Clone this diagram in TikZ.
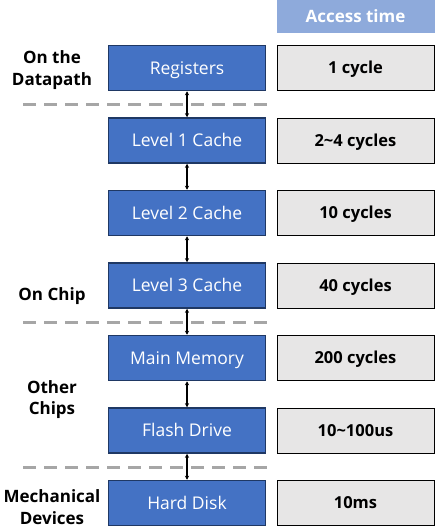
\documentclass[tikz,border=0pt]{standalone}
\usepackage{fontspec}
\setmainfont{Open Sans}
\usetikzlibrary{arrows.meta}
\definecolor{memblue}{HTML}{4472C4}
\definecolor{memedge}{HTML}{1F3864}
\definecolor{timefill}{HTML}{E7E6E6}
\definecolor{headfill}{HTML}{8EAADB}
\definecolor{sepgray}{HTML}{A6A6A6}
\tikzset{
  membox/.style={draw=memedge, line width=1.5pt, fill=memblue, text=white,
    minimum width=157pt, minimum height=45pt, inner sep=0pt, text height=12.4pt, text depth=0pt,
    font=\fontsize{17.5}{20}\selectfont},
  timebox/.style={draw=black, line width=1pt, fill=timefill, text=black,
    minimum width=157pt, minimum height=45pt, inner sep=0pt, text height=11.8pt, text depth=0pt,
    font=\fontsize{16.5}{20}\selectfont\bfseries},
  headbox/.style={fill=headfill, text=white, minimum width=158pt, minimum height=33pt,
    inner sep=0pt, text height=12pt, text depth=0pt, font=\fontsize{17}{20}\selectfont\bfseries},
  sidelabel/.style={align=center, font=\fontsize{17}{21.5}\selectfont\bfseries, inner sep=0pt},
  sepline/.style={draw=sepgray, line width=3pt, dash pattern=on 13pt off 8pt},
  link/.style={{Stealth[length=4pt,width=4pt]}-{Stealth[length=4pt,width=4pt]}, line width=1.2pt, black}
}
\begin{document}
\begin{tikzpicture}[x=1pt,y=-1pt]
\useasboundingbox (0,0) rectangle (447,527);
% separators
\coordinate (s1a) at (23,104); \coordinate (s1b) at (267,104);
\coordinate (s2a) at (23,322); \coordinate (s2b) at (267,322);
\coordinate (s3a) at (23,467); \coordinate (s3b) at (267,467);
\draw[sepline] (s1a) -- (s1b);
\draw[sepline] (s2a) -- (s2b);
\draw[sepline] (s3a) -- (s3b);
% header
\node[headbox] (head) at (355.5,16.5) {Access time};
% memory boxes
\node[membox] (reg) at (187,68) {Registers};
\node[membox] (l1) at (187,140.5) {Level 1 Cache};
\node[membox] (l2) at (187,213) {Level 2 Cache};
\node[membox] (l3) at (187,285.5) {Level 3 Cache};
\node[membox] (mm) at (187,358) {Main Memory};
\node[membox] (fd) at (187,430.5) {Flash Drive};
\node[membox] (hd) at (187,503) {Hard Disk};
% time boxes
\node[timebox] (t1) at (355.5,68) {1 cycle};
\node[timebox] (t2) at (355.5,140.5) {2\textasciitilde4 cycles};
\node[timebox] (t3) at (355.5,213) {10 cycles};
\node[timebox] (t4) at (355.5,285.5) {40 cycles};
\node[timebox] (t5) at (355.5,358) {200 cycles};
\node[timebox] (t6) at (355.5,430.5) {10\textasciitilde100us};
\node[timebox] (t7) at (355.5,503) {10ms};
% links
\draw[link] (reg.south) -- (l1.north);
\draw[link] (l1.south) -- (l2.north);
\draw[link] (l2.south) -- (l3.north);
\draw[link] (l3.south) -- (mm.north);
\draw[link] (mm.south) -- (fd.north);
\draw[link] (fd.south) -- (hd.north);
% side labels
\node[sidelabel] (lab1) at (52,70) {On the\\Datapath};
\node[sidelabel] (lab2) at (52,296) {On Chip};
\node[sidelabel] (lab3) at (52,399.5) {Other\\Chips};
\node[sidelabel] (lab4) at (52,507) {Mechanical\\Devices};
\end{tikzpicture}
\end{document}
